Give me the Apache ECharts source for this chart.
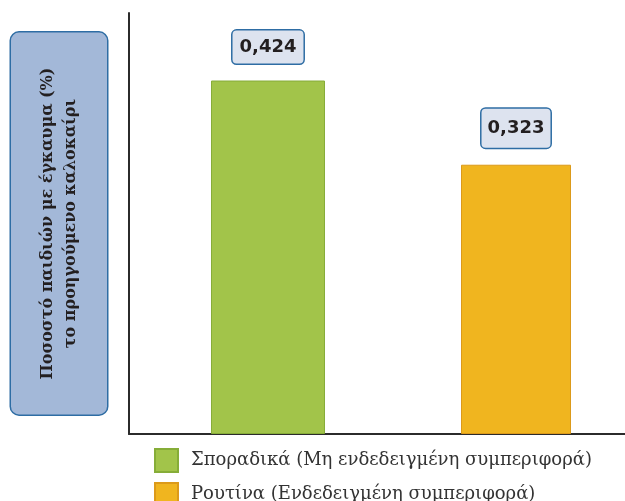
<!DOCTYPE html>
<html>
<head>
<meta charset="utf-8">
<script src="https://cdn.jsdelivr.net/npm/echarts@6/dist/echarts.min.js"></script>
<style>
  html, body { margin: 0; padding: 0; background: #ffffff; }
  #chart { width: 625px; height: 501px; }
</style>
</head>
<body>
<div id="chart"></div>
<script>
// Share of children with a burn in the previous summer, by sun-protection behaviour
const categories = [''];
const seriesNames = [
  'Σποραδικά (Μη ενδεδειγμένη συμπεριφορά)',
  'Ρουτίνα (Ενδεδειγμένη συμπεριφορά)'
];
const sporadicValues = [0.424];
const routineValues = [0.323];
const yAxisTitleLines = ['Ποσοστό παιδιών με έγκαυμα (%)', 'το προηγούμενο καλοκαίρι'];

const fmt = v => v.toFixed(3).replace('.', ',');

const labelBox = {
  show: true,
  position: 'top',
  distance: 17,
  formatter: p => fmt(p.value),
  fontFamily: 'DejaVu Sans',
  fontWeight: 'bold',
  fontSize: 18,
  color: '#231f20',
  backgroundColor: '#dde3ef',
  borderColor: '#2e6da4',
  borderWidth: 1.5,
  borderRadius: 4
};

const chart = echarts.init(document.getElementById('chart'), null, { renderer: 'canvas' });
chart.setOption({
  animation: false,
  backgroundColor: '#ffffff',
  grid: { left: 129, right: -28, top: 13, bottom: 67, outerBoundsMode: 'none' },
  legend: {
    orient: 'vertical',
    left: 154,
    top: 448,
    height: 80,
    padding: 0,
    itemWidth: 23,
    itemHeight: 23,
    itemGap: 9,
    icon: 'rect',
    data: seriesNames,
    textStyle: {
      fontFamily: 'DejaVu Serif',
      fontSize: 18,
      color: '#333333',
      padding: [0, 0, 0, 8]
    }
  },
  xAxis: {
    type: 'category',
    data: categories,
    axisLine: { show: true, lineStyle: { color: '#2b2b2b', width: 2 } },
    axisTick: { show: false },
    axisLabel: { show: false },
    splitLine: { show: false }
  },
  yAxis: {
    type: 'value',
    min: 0,
    max: 0.505,
    axisLine: { show: true, lineStyle: { color: '#2b2b2b', width: 2 } },
    axisTick: { show: false },
    axisLabel: { show: false },
    splitLine: { show: false },
    name: yAxisTitleLines.join('\n'),
    nameLocation: 'middle',
    nameRotate: 90,
    nameGap: 22,
    nameTextStyle: {
      fontFamily: 'DejaVu Serif',
      fontWeight: 'bold',
      fontSize: 16,
      lineHeight: 23,
      color: '#231f20',
      align: 'center',
      padding: [25, 35, 25, 35],
      backgroundColor: '#a3b8d8',
      borderColor: '#2e6da4',
      borderWidth: 1.5,
      borderRadius: 8
    }
  },
  series: [
    {
      name: seriesNames[0],
      type: 'bar',
      data: sporadicValues,
      barWidth: 114,
      itemStyle: { color: '#a2c44a', borderColor: '#86ad38', borderWidth: 1 },
      label: Object.assign({}, labelBox, { padding: [8, 7, 7, 7] })
    },
    {
      name: seriesNames[1],
      type: 'bar',
      data: routineValues,
      barWidth: 110,
      barGap: '119.3%',
      itemStyle: { color: '#f0b51f', borderColor: '#dc9a1a', borderWidth: 1 },
      label: Object.assign({}, labelBox, { padding: [11, 6, 10, 6] })
    }
  ]
});
</script>
</body>
</html>
